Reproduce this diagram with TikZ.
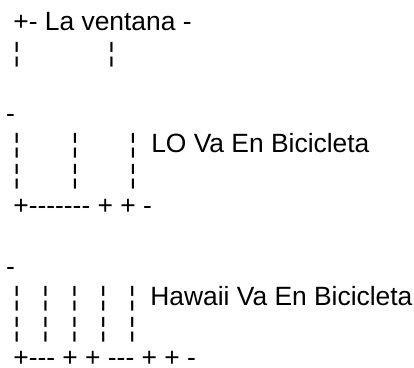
\documentclass[tikz,border=0pt]{standalone}
\usepackage{fontspec}
\newfontfamily\asciifont{Liberation Sans}[Ligatures=TeXOff]
\newcommand{\blanks}[1]{\hspace*{#1\fontdimen2\font}}
\tikzset{asciiline/.style={inner sep=0pt, anchor=base west, font=\asciifont\fontsize{26.4}{30.6}\selectfont}}

\begin{document}
\begin{tikzpicture}[x=1pt, y=-1pt]
			%%%%% FRAME %%%%%
			\useasboundingbox (0, 0) rectangle (414, 367);
			
			%%%%% WINDOW %%%%%
			\node[asciiline] (title) at (5.8, 30.4) {\blanks{1}+- La ventana -};
			\node[asciiline] (topbars) at (5.8, 61.0) {\blanks{1}¦\blanks{12}¦};
			
			\node[asciiline] (dashA) at (5.8, 122.2) {-};
			
			%%%%% LO %%%%%
			\node[asciiline] (loA) at (5.8, 152.8) {\blanks{1}¦\blanks{7}¦\blanks{7}¦\blanks{2}LO Va En Bicicleta};
			\node[asciiline] (loB) at (5.8, 183.4) {\blanks{1}¦\blanks{7}¦\blanks{7}¦};
			\node[asciiline] (loBase) at (5.8, 214.0) {\blanks{1}+------- + + -};
			
			\node[asciiline] (dashB) at (5.8, 275.2) {-};
			
			%%%%% HAWAII %%%%%
			\node[asciiline] (hawA) at (5.8, 305.8) {\blanks{1}¦\blanks{3}¦\blanks{3}¦\blanks{3}¦\blanks{3}¦\blanks{2}Hawaii Va En Bicicleta};
			\node[asciiline] (hawB) at (5.8, 336.4) {\blanks{1}¦\blanks{3}¦\blanks{3}¦\blanks{3}¦\blanks{3}¦};
			\node[asciiline, text depth=0pt] (hawBase) at (5.8, 366.0) {\blanks{1}+--- + + --- + + -};
			
			%%%%% END %%%%%
\end{tikzpicture}
\end{document}
